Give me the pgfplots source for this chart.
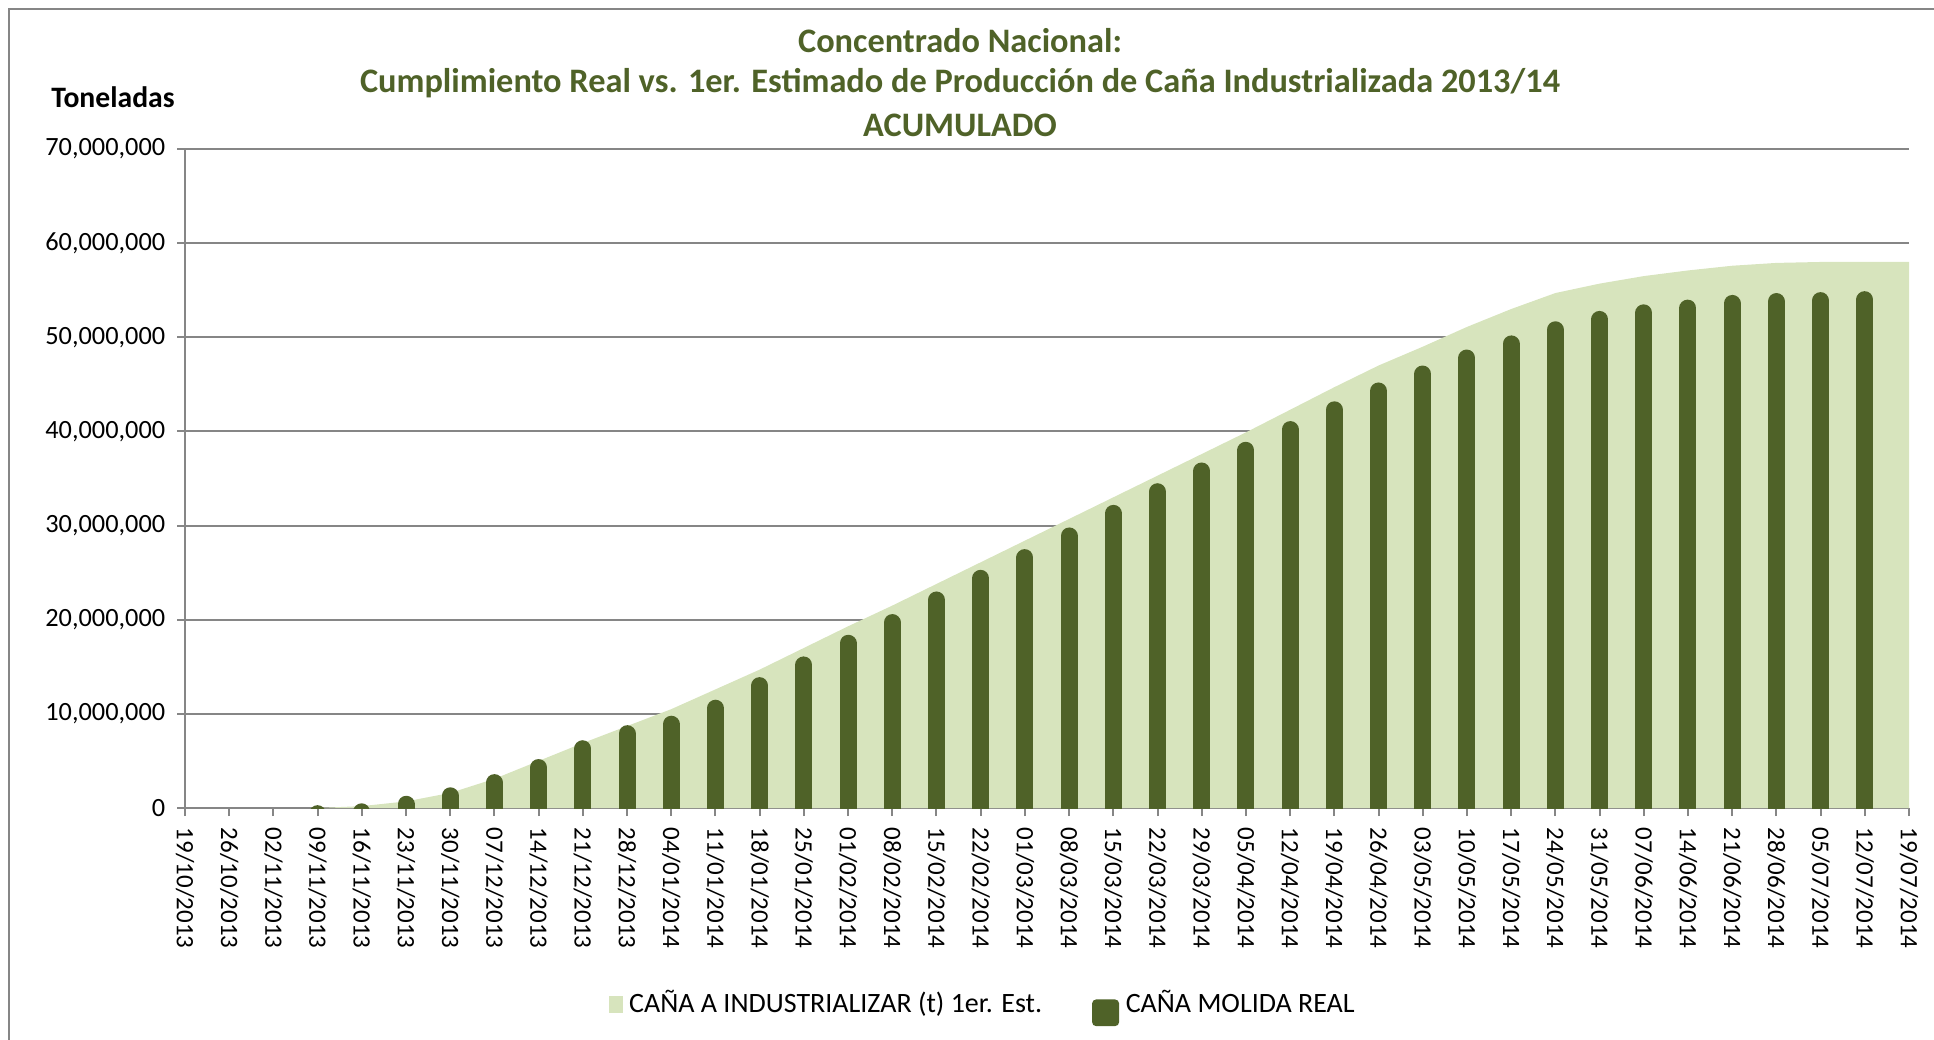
\documentclass[border=0pt]{standalone}
\usepackage{fontspec}
\setmainfont{Carlito}
\usepackage{pgfplots}
\pgfplotsset{compat=1.18}
\definecolor{areagreen}{HTML}{D7E4BD}
\definecolor{bargreen}{HTML}{4F6228}
\definecolor{axisgray}{HTML}{868686}

\begin{document}
\begin{tikzpicture}
\useasboundingbox (0,0) rectangle (580.2pt,-312pt);
\draw[axisgray, line width=0.5pt] (2.7pt,-313pt) -- (2.7pt,-2.7pt) -- (581pt,-2.7pt);

% titles
\begin{scope}[every node/.style={font=\fontsize{10.3}{12}\selectfont\bfseries, text=bargreen}]
\node at (288pt,-12.3pt) {Concentrado Nacional:};
\node at (288pt,-24.9pt) {Cumplimiento Real vs. 1er. Estimado de Producción de Caña Industrializada 2013/14};
\node at (288pt,-37.5pt) {ACUMULADO};
\end{scope}
\node[font=\fontsize{8.9}{10}\selectfont\bfseries] at (33.9pt,-29.1pt) {Toneladas};

\begin{axis}[
    at={(55.5pt,-242.4pt)}, anchor=south west,
    width=517.2pt, height=197.7pt, scale only axis,
    xmin=0, xmax=39, ymin=0, ymax=70000000,
    axis x line*=bottom, axis y line*=left,
    axis line style={axisgray, line width=0.7pt},
    tick align=outside, major tick length=2.4pt,
    tick style={axisgray, line width=0.6pt},
    ymajorgrids, major grid style={axisgray, line width=0.6pt},
    ytick={0,10000000,...,70000000},
    scaled y ticks=false,
    /pgf/number format/fixed,
    /pgf/number format/1000 sep={,},
    /pgf/number format/assume math mode=true,
    yticklabel style={font=\fontsize{7.9}{8}\selectfont},
    xticklabel style={rotate=-90, anchor=west, font=\fontsize{7.5}{8}\selectfont},
    xtick={0,...,39},
    xticklabels={19/10/2013,26/10/2013,02/11/2013,09/11/2013,16/11/2013,23/11/2013,30/11/2013,
      07/12/2013,14/12/2013,21/12/2013,28/12/2013,04/01/2014,11/01/2014,18/01/2014,25/01/2014,
      01/02/2014,08/02/2014,15/02/2014,22/02/2014,01/03/2014,08/03/2014,15/03/2014,22/03/2014,
      29/03/2014,05/04/2014,12/04/2014,19/04/2014,26/04/2014,03/05/2014,10/05/2014,17/05/2014,
      24/05/2014,31/05/2014,07/06/2014,14/06/2014,21/06/2014,28/06/2014,05/07/2014,12/07/2014,
      19/07/2014},
    legend columns=2,
    legend style={at={(0.464,-0.299)}, anchor=center, draw=none, fill=none,
      font=\fontsize{8.4}{9}\selectfont,
      /tikz/every even column/.append style={column sep=13pt}},
]
% 1er. estimado (acumulado)
\addplot[fill=areagreen, draw=none,
  legend image code/.code={\fill[areagreen, draw=none] (0pt,-2.55pt) rectangle (4.2pt,2.55pt);}]
  coordinates {
  (3,0) (4,200000) (5,700000) (6,1600000) (7,3100000) (8,5000000) (9,6900000)
  (10,8700000) (11,10500000) (12,12600000) (13,14700000) (14,17000000) (15,19300000)
  (16,21500000) (17,23800000) (18,26100000) (19,28400000) (20,30700000) (21,33000000)
  (22,35300000) (23,37600000) (24,39900000) (25,42300000) (26,44700000) (27,47000000)
  (28,49000000) (29,51100000) (30,53000000) (31,54700000) (32,55700000) (33,56500000)
  (34,57100000) (35,57600000) (36,57900000) (37,58000000) (38,58000000) (39,58000000)
  } \closedcycle;
\addlegendentry{CAÑA A INDUSTRIALIZAR (t) 1er. Est.}
% molida real
\addplot[ycomb, draw=bargreen, line width=5.1pt, line cap=round, yshift=-2.55pt, mark=none,
  legend image code/.code={\fill[bargreen, draw=none, rounded corners=1.2pt] (0pt,-4pt) rectangle (8.1pt,4pt);}]
  coordinates {
  (3,300000) (4,500000) (5,1300000) (6,2200000) (7,3600000) (8,5200000) (9,7200000)
  (10,8800000) (11,9800000) (12,11500000) (13,13900000) (14,16100000) (15,18400000)
  (16,20600000) (17,23000000) (18,25300000) (19,27500000) (20,29800000) (21,32200000)
  (22,34500000) (23,36700000) (24,38900000) (25,41100000) (26,43200000) (27,45200000)
  (28,47000000) (29,48700000) (30,50200000) (31,51700000) (32,52800000) (33,53500000)
  (34,54000000) (35,54500000) (36,54700000) (37,54800000) (38,54900000)
  };
\addlegendentry{CAÑA MOLIDA REAL}
\end{axis}
\end{tikzpicture}
\end{document}
